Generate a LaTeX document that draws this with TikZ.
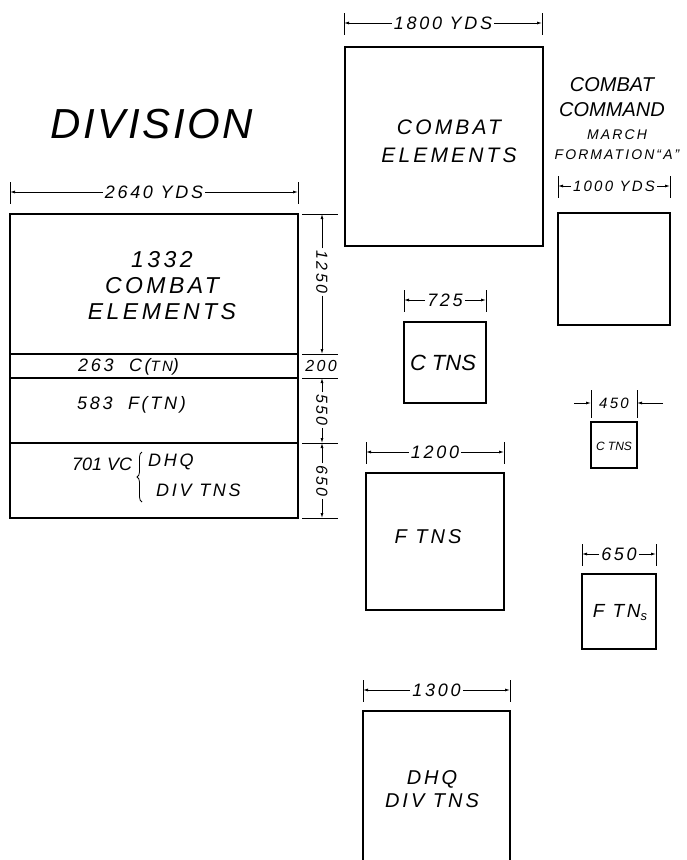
\documentclass[tikz,border=0pt]{standalone}
\usepackage{fontspec}
\setmainfont{Liberation Sans}
\newfontfamily\lettering{Liberation Sans}[LetterSpace=15]
\newfontfamily\titlelettering{Liberation Sans}[LetterSpace=6]
\usetikzlibrary{arrows.meta, calc, decorations.pathreplacing}

\begin{document}
\begin{tikzpicture}[
    x=1pt, y=-1pt,
    unit/.style={line width=1.6pt},
    ext/.style={line width=0.8pt},
    dimline/.style={-{Latex[length=5pt,width=3pt]}, line width=0.8pt},
    dimlab/.style={inner sep=2pt, font=\lettering\itshape\fontsize{#1}{#1}\selectfont},
    dimlab/.default=18,
    unitlab/.style={align=center, font=\lettering\itshape\fontsize{21}{28}\selectfont},
    strip/.style={anchor=west, inner sep=0pt, font=\lettering\itshape\fontsize{18}{18}\selectfont}
]
\useasboundingbox (0,0) rectangle (686,860);

% Division column
\node[font=\titlelettering\itshape\fontsize{42}{42}\selectfont] (division) at (152,124) {DIVISION};

\draw[unit] (10,214) rectangle (298,518);
\foreach \y in {354,378,443} \draw[unit] (10,\y) -- (298,\y);

\node[unitlab, font=\lettering\itshape\fontsize{23}{26}\selectfont] (div-ce) at (162,286) {1332\\COMBAT\\ELEMENTS};
\node[strip] (div-c) at (78,367) {263~~C({\fontsize{15}{15}\selectfont TN})};
\node[strip] (div-f) at (77,405) {583~~F(TN)};
\node[strip, font=\itshape\fontsize{18}{18}\selectfont] (div-vc) at (72,464) {701 VC};
\node[strip] (div-dhq) at (148,462) {DHQ};
\node[strip] (div-tns) at (156,490) {DIV TNS};
\coordinate (brace-b) at (142,502);
\coordinate (brace-t) at (142,452);
\draw[ext, decorate, decoration={brace, amplitude=5pt}] (brace-b) -- (brace-t);

% Depth dimensions on the right of the division
\foreach \y in {214,354,378,443,518} \draw[ext] (302,\y) -- (338,\y);
\coordinate (v0) at (322,214);
\coordinate (v1) at (322,354);
\coordinate (v2) at (322,378);
\coordinate (v3) at (322,443);
\coordinate (v4) at (322,518);
\node[dimlab=16, rotate=-90] (v-a) at (322,272) {1250};
\draw[dimline] (v-a) -- (v0);
\draw[dimline] (v-a) -- (v1);
\node[dimlab=16] (v-b) at (321,366) {200};
\node[dimlab=16, rotate=-90] (v-c) at (322,410) {550};
\draw[dimline] (v-c) -- (v2);
\draw[dimline] (v-c) -- (v3);
\node[dimlab=16, rotate=-90] (v-d) at (322,481) {650};
\draw[dimline] (v-d) -- (v3);
\draw[dimline] (v-d) -- (v4);

% Combat elements and trains
\draw[unit] (345,47) rectangle (543,246);
\node[unitlab] (ce-lab) at (449,141) {COMBAT\\ELEMENTS};

\draw[unit] (404,322) rectangle (486,403);
\node[font=\itshape\fontsize{22}{22}\selectfont] (ct-lab) at (443,363) {C TNS};

\draw[unit] (366,473) rectangle (504,610);
\node[font=\lettering\itshape\fontsize{20}{20}\selectfont] (ft-lab) at (428,537) {F TNS};

\draw[unit] (363,860) -- (363,711) -- (510,711) -- (510,860);
\node[unitlab, font=\lettering\itshape\fontsize{20}{23}\selectfont] (dhq-lab) at (432,789) {DHQ\\DIV TNS};

% Combat command, march formation A
\node[align=center, font=\itshape\fontsize{20}{25}\selectfont] (cc-title) at (612,97) {COMBAT\\COMMAND};
\node[align=center, font=\lettering\itshape\fontsize{14}{20}\selectfont] (cc-march) at (617,145) {MARCH\\FORMATION“A”};

\draw[unit] (558,213) rectangle (670,325);

\draw[unit] (591,422) rectangle (637,468);
\node[inner sep=0pt, font=\itshape\fontsize{12}{12}\selectfont] (cts-lab) at (614,446) {C TNS};

\draw[unit] (582,574) rectangle (656,649);
\node[font=\lettering\itshape\fontsize{19}{19}\selectfont] (fts-lab) at (620,613) {F TN\raisebox{-3pt}{\fontsize{13}{13}\selectfont s}};

% Width dimensions
\foreach \nm/\xa/\xb/\y/\sz/\lab in {div/10/298/192/18/2640 YDS, ce/344/542/23/18/1800 YDS, cc/558/670/186/15/1000 YDS, ct/404/486/300/18/725, ft/366/504/452/18/1200, dhq/363/510/690/18/1300, fts/582/656/554/18/650} {
  \draw[ext] (\xa,\y-10) -- (\xa,\y+12);
  \draw[ext] (\xb,\y-10) -- (\xb,\y+12);
  \coordinate (\nm-l) at (\xa,\y);
  \coordinate (\nm-r) at (\xb,\y);
  \node[dimlab=\sz] (\nm-dim) at ($(\nm-l)!0.5!(\nm-r)$) {\lab};
  \draw[dimline] (\nm-dim) -- (\nm-l);
  \draw[dimline] (\nm-dim) -- (\nm-r);
}

% 450 with arrows from outside
\draw[ext] (591,390) -- (591,418);
\draw[ext] (637,390) -- (637,418);
\coordinate (t450-l) at (591,403);
\coordinate (t450-r) at (637,403);
\coordinate (t450-lo) at (574,403);
\coordinate (t450-ro) at (663,403);
\node[dimlab=15] (t450) at (614,403) {450};
\draw[dimline] (t450-lo) -- (t450-l);
\draw[dimline] (t450-ro) -- (t450-r);

\end{tikzpicture}
\end{document}
